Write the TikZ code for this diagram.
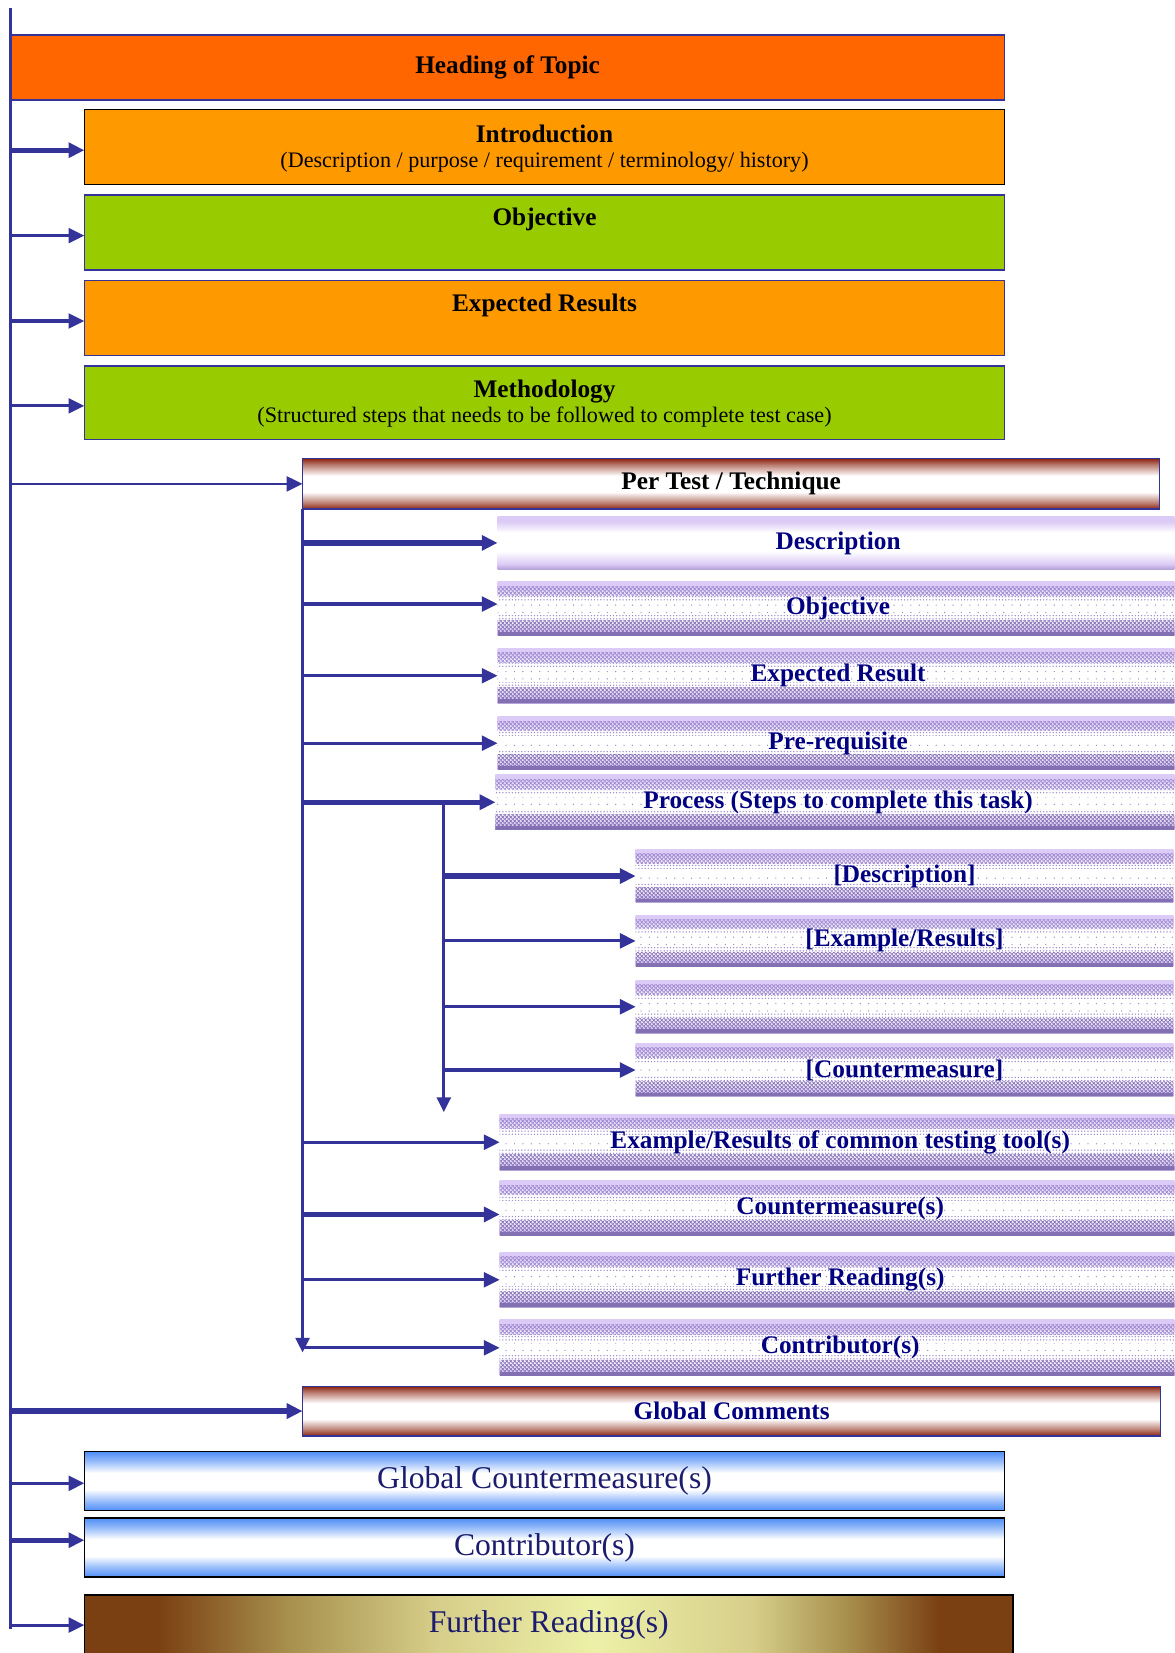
\documentclass[tikz,border=0pt]{standalone}
\usepackage{fontspec}
\setmainfont{Liberation Serif}
\usetikzlibrary{arrows.meta,patterns,calc}

% colours
\definecolor{linkblue}{HTML}{333399}
\definecolor{headorange}{HTML}{FF6600}
\definecolor{lightorange}{HTML}{FF9900}
\definecolor{leafgreen}{HTML}{99CC00}
\definecolor{navytext}{HTML}{000080}
\definecolor{deepnavy}{HTML}{1C1C6E}
\definecolor{tubemaroon}{HTML}{8B2410}
\definecolor{lavtop}{HTML}{DCCBF7}
\definecolor{lavedge}{HTML}{B3A3D6}
\definecolor{lavmid}{HTML}{9C88CC}
\definecolor{lavdark}{HTML}{8270B2}
\definecolor{skyblue}{HTML}{4F8EF7}
\definecolor{brownedge}{HTML}{7A4012}
\definecolor{olivetone}{HTML}{A8904E}
\definecolor{khaki}{HTML}{D6CE8A}
\definecolor{paleyellow}{HTML}{EDF0A8}

% shadings (the path box spans 25bp..75bp)
\pgfdeclareverticalshading{tubered}{100bp}{color(0bp)=(tubemaroon); color(25bp)=(tubemaroon);
  color(31bp)=(tubemaroon!60!white); color(42bp)=(white); color(58bp)=(white);
  color(69bp)=(tubemaroon!60!white); color(75bp)=(tubemaroon); color(100bp)=(tubemaroon)}
\pgfdeclareverticalshading{tubelav}{100bp}{color(0bp)=(lavedge); color(25bp)=(lavedge);
  color(30bp)=(lavtop); color(42bp)=(white); color(60bp)=(white);
  color(70bp)=(lavtop); color(75bp)=(lavtop); color(100bp)=(lavtop)}
\pgfdeclareverticalshading{tubeblue}{100bp}{color(0bp)=(skyblue); color(25bp)=(skyblue);
  color(33bp)=(skyblue!60!white); color(43bp)=(white); color(57bp)=(white);
  color(67bp)=(skyblue!60!white); color(75bp)=(skyblue); color(100bp)=(skyblue)}
\pgfdeclarehorizontalshading{brownband}{100bp}{color(0bp)=(brownedge); color(25bp)=(brownedge);
  color(29bp)=(brownedge); color(36bp)=(olivetone); color(44bp)=(khaki); color(52.5bp)=(paleyellow);
  color(61bp)=(khaki); color(66bp)=(olivetone); color(71bp)=(brownedge); color(75bp)=(brownedge);
  color(100bp)=(brownedge)}

% textures for the ribbed boxes
\pgfdeclarepatternformonly{xhatch}{\pgfqpoint{0pt}{0pt}}{\pgfqpoint{4pt}{4pt}}{\pgfqpoint{4pt}{4pt}}%
  {\pgfsetlinewidth{0.75pt}%
   \pgfpathmoveto{\pgfqpoint{0pt}{0pt}}\pgfpathlineto{\pgfqpoint{4pt}{4pt}}%
   \pgfpathmoveto{\pgfqpoint{0pt}{4pt}}\pgfpathlineto{\pgfqpoint{4pt}{0pt}}%
   \pgfusepath{stroke}}
\pgfdeclarepatternformonly{rowdots}{\pgfqpoint{-1pt}{-1pt}}{\pgfqpoint{1pt}{1pt}}{\pgfqpoint{3pt}{3pt}}%
  {\pgfpathcircle{\pgfqpoint{0pt}{0pt}}{0.7pt}\pgfusepath{fill}}
\pgfdeclarepatternformonly{sparsedots}{\pgfqpoint{-1pt}{-1pt}}{\pgfqpoint{1pt}{1pt}}{\pgfqpoint{8pt}{7pt}}%
  {\pgfpathcircle{\pgfqpoint{0pt}{0pt}}{0.65pt}\pgfusepath{fill}}

\tikzset{
  basebox/.style={rectangle, anchor=north west, inner sep=0pt, outer sep=0pt, line width=1.4pt},
  tblack/.style={font=\fontsize{24}{27}\selectfont\bfseries, text=black},
  tnavy/.style={font=\fontsize{24}{27}\selectfont\bfseries, text=navytext},
  tsub/.style={font=\fontsize{21}{24}\selectfont, text=black},
  tbig/.style={font=\fontsize{30}{33}\selectfont, text=deepnavy},
  topbox/.style={basebox, draw=linkblue},
  redtube/.style={basebox, shade, shading=tubered, draw=linkblue, tblack},
  lavplain/.style={basebox, shade, shading=tubelav, tnavy},
  lavtex/.style={lavplain, path picture={
      \coordinate (tl) at (path picture bounding box.north west);
      \coordinate (br) at (path picture bounding box.south east);
      \coordinate (tr) at (tl -| br);
      \coordinate (bl) at (tl |- br);
      \fill[pattern=xhatch, pattern color=lavmid] ($(tl)!0.08!(bl)$) rectangle ($(tr)!0.26!(br)$);
      \fill[pattern=rowdots, pattern color=lavmid] ($(tl)!0.28!(bl)$) rectangle ($(tr)!0.36!(br)$);
      \fill[pattern=sparsedots, pattern color=lavmid] ($(tl)!0.42!(bl)$) rectangle ($(tr)!0.60!(br)$);
      \fill[pattern=rowdots, pattern color=lavmid] ($(tl)!0.63!(bl)$) rectangle ($(tr)!0.71!(br)$);
      \fill[pattern=xhatch, pattern color=lavdark] ($(tl)!0.72!(bl)$) rectangle ($(tr)!0.92!(br)$);
      \fill[lavdark] ($(tl)!0.93!(bl)$) rectangle (br);
    }},
  bluetube/.style={basebox, shade, shading=tubeblue, draw=black, tbig},
  spine/.style={draw=linkblue, line width=2.2pt},
  trunk/.style={draw=linkblue, line width=3pt},
  arr/.style={draw=linkblue, line width=3pt, -{Triangle[length=15pt,width=14pt]}},
  arrthick/.style={arr, line width=5pt},
  downarr/.style={trunk, -{Triangle[length=14pt,width=13pt]}},
}

\begin{document}
\begin{tikzpicture}[x=1pt,y=-1pt]
\useasboundingbox (0,0) rectangle (1114,1568);
\clip (0,0) rectangle (1114,1568);
\fill[white] (0,0) rectangle (1114,1568);

% ---- top level blocks
\node[topbox, fill=headorange, minimum width=943pt, minimum height=62pt, tblack] (heading) at (10,33) {Heading of Topic};
\node[basebox, fill=lightorange, draw=black, minimum width=873pt, minimum height=71pt] (intro) at (80,104) {};
\node[tblack] (introtitle) at ([yshift=-23pt]intro.north) {Introduction};
\node[tsub] (introsub) at ([yshift=-50pt]intro.north) {(Description / purpose / requirement / terminology/ history)};
\node[topbox, fill=leafgreen, minimum width=873pt, minimum height=71pt] (objective) at (80,185) {};
\node[tblack] (objtitle) at ([yshift=-23pt]objective.north) {Objective};
\node[topbox, fill=lightorange, minimum width=873pt, minimum height=71pt] (expected) at (80,266) {};
\node[tblack] (exptitle) at ([yshift=-24pt]expected.north) {Expected Results};
\node[topbox, fill=leafgreen, minimum width=873pt, minimum height=70pt] (method) at (80,347) {};
\node[tblack] (methtitle) at ([yshift=-24pt]method.north) {Methodology};
\node[tsub] (methsub) at ([yshift=-49pt]method.north) {(Structured steps that needs to be followed to complete test case)};

% ---- per test / technique
\node[redtube, minimum width=813pt, minimum height=48pt] (pertest) at (287,435) {Per Test / Technique};
\node[lavplain, minimum width=646pt, minimum height=50pt] (desc) at (472,490) {Description};
\node[lavtex, minimum width=646pt, minimum height=51pt] (obj2) at (472,552) {Objective};
\node[lavtex, minimum width=646pt, minimum height=52pt] (exp2) at (472,615) {Expected Result};
\node[lavtex, minimum width=646pt, minimum height=50pt] (prereq) at (472,680) {Pre-requisite};
\node[lavtex, minimum width=650pt, minimum height=52pt] (process) at (470,735) {Process (Steps to complete this task)};

\node[lavtex, minimum width=510pt, minimum height=50pt] (sdesc) at (603,806) {[Description]};
\node[lavtex, minimum width=510pt, minimum height=49pt] (sexample) at (603,868) {[Example/Results]};
\node[lavtex, minimum width=510pt, minimum height=50pt] (sblank) at (603,930) {};
\node[lavtex, minimum width=510pt, minimum height=50pt] (scounter) at (603,990) {[Countermeasure]};

\node[lavtex, minimum width=646pt, minimum height=53pt] (tools) at (474,1057) {Example/Results of common testing tool(s)};
\node[lavtex, minimum width=646pt, minimum height=52pt] (counter) at (474,1120) {Countermeasure(s)};
\node[lavtex, minimum width=646pt, minimum height=52pt] (further) at (474,1188) {Further Reading(s)};
\node[lavtex, minimum width=646pt, minimum height=53pt] (contrib) at (474,1252) {Contributor(s)};

% ---- global blocks
\node[redtube, minimum width=814pt, minimum height=47pt, text=navytext] (gcomments) at (287,1315) {Global Comments};
\node[bluetube, minimum width=873pt, minimum height=56pt] (gcounter) at (80,1377) {Global Countermeasure(s)};
\node[bluetube, minimum width=873pt, minimum height=56pt] (gcontrib) at (80,1440) {Contributor(s)};
\node[basebox, shade, shading=brownband, draw=black, minimum width=881pt, minimum height=57pt, tbig] (gfurther) at (80,1513) {Further Reading(s)};

% ---- main spine
\coordinate (spinetop) at (10,8);
\coordinate (spinebot) at (10,1545);
\draw[spine] (spinetop) -- (spinebot);
\coordinate (introin) at ([yshift=-3pt]intro.west);
\coordinate (objin) at ([yshift=-3pt]objective.west);
\coordinate (expin) at ([yshift=-3pt]expected.west);
\coordinate (methin) at ([yshift=-3pt]method.west);
\coordinate (gcounterin) at ([yshift=-2pt]gcounter.west);
\coordinate (gcontribin) at ([yshift=7pt]gcontrib.west);
\draw[arrthick] (spinetop |- introin) -- (introin);
\draw[arr] (spinetop |- objin) -- (objin);
\draw[arr] (spinetop |- expin) -- (expin);
\draw[arr] (spinetop |- methin) -- (methin);
\draw[arr, line width=2.4pt] (spinetop |- pertest.west) -- (pertest.west);
\draw[arrthick] (spinetop |- gcomments.west) -- (gcomments.west);
\draw[arr] (spinetop |- gcounterin) -- (gcounterin);
\draw[arrthick] (spinetop |- gcontribin) -- (gcontribin);
\draw[arr] (spinetop |- gfurther.west) -- (gfurther.west);

% ---- per test trunk
\coordinate (trunkend) at (287,1283);
\draw[downarr] (pertest.south west) -- (trunkend);
\coordinate (obj2in) at ([yshift=4.5pt]obj2.west);
\coordinate (counterin) at ([yshift=-6pt]counter.west);
\draw[arrthick] (pertest.south west |- desc.west) -- (desc.west);
\draw[arr] (pertest.south west |- obj2in) -- (obj2in);
\draw[arr] (pertest.south west |- exp2.west) -- (exp2.west);
\draw[arr] (pertest.south west |- prereq.west) -- (prereq.west);
\draw[arrthick] (pertest.south west |- process.west) -- (process.west);
\draw[arr] (pertest.south west |- tools.west) -- (tools.west);
\draw[arrthick] (pertest.south west |- counterin) -- (counterin);
\draw[arr] (pertest.south west |- further.west) -- (further.west);
\draw[arr] (pertest.south west |- contrib.west) -- (contrib.west);

% ---- process sub trunk
\coordinate (subtop) at (421,761);
\coordinate (subend) at (421,1055);
\draw[downarr] (subtop) -- (subend);
\draw[arrthick] (subtop |- sdesc.west) -- (sdesc.west);
\draw[arr] (subtop |- sexample.west) -- (sexample.west);
\draw[arr] (subtop |- sblank.west) -- (sblank.west);
\draw[arr] (subtop |- scounter.west) -- (scounter.west);
\end{tikzpicture}
\end{document}
